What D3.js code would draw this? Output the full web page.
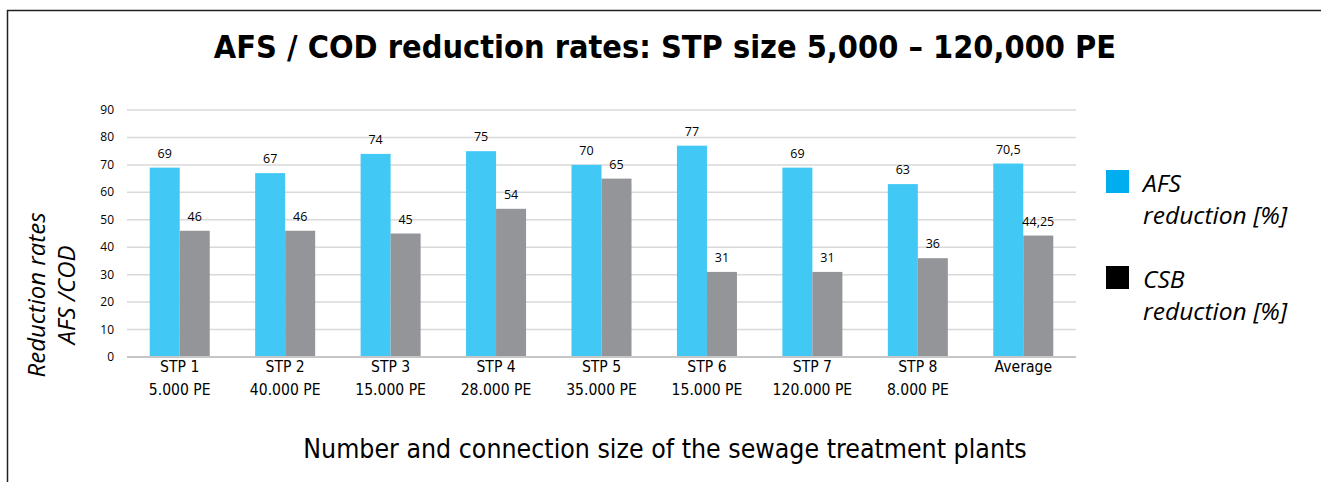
<!DOCTYPE html>
<html>
<head>
  <meta charset="utf-8">
  <title>AFS / COD reduction rates</title>
  <style>
    html, body {
      margin: 0;
      padding: 0;
      background: #fff;
    }
    svg {
      display: block;
    }
    .grid line {
      stroke: #d9d9d9;
      stroke-width: 1.5;
    }
    .ytick {
      font-family: "Open Sans", sans-serif;
      font-size: 12px;
      fill: #000;
    }
    .vlabel {
      font-family: "Open Sans", sans-serif;
      font-size: 12.5px;
      fill: #000;
    }
    .cat {
      font-family: "DejaVu Sans", sans-serif;
      font-size: 14px;
      fill: #000;
    }
  </style>
</head>
<body>
  <svg id="chart" width="1321" height="482"></svg>

  <script src="https://d3js.org/d3.v7.min.js"></script>
  <script>
    const categories = ["STP 1", "STP 2", "STP 3", "STP 4", "STP 5", "STP 6", "STP 7", "STP 8", "Average"];
    const sizes = ["5.000 PE", "40.000 PE", "15.000 PE", "28.000 PE", "35.000 PE", "15.000 PE", "120.000 PE", "8.000 PE", ""];
    const afsValues = [69, 67, 74, 75, 70, 77, 69, 63, 70.5];
    const csbValues = [46, 46, 45, 54, 65, 31, 31, 36, 44.25];
    const yTicks = [0, 10, 20, 30, 40, 50, 60, 70, 80, 90];
    const seriesNames = ["AFS reduction [%]", "CSB reduction [%]"];

    const svg = d3.select("#chart");

    // outer frame, only top and left edges are in view
    svg.append("path")
      .attr("d", "M7.5,482 L7.5,10.5 L1321,10.5")
      .attr("fill", "none")
      .attr("stroke", "#222")
      .attr("stroke-width", 1.5);

    // text in the original is a bit taller than wide, so stretch it a little
    function stretched(sel, x, y, kx, ky) {
      return sel.append("text").attr("transform", `translate(${x},${y}) scale(${kx},${ky})`);
    }

    stretched(svg, 665, 58, 1, 1.12)
      .attr("text-anchor", "middle")
      .style("font-family", "DejaVu Sans, sans-serif")
      .style("font-weight", "bold")
      .style("font-size", "29px")
      .text("AFS / COD reduction rates: STP size 5,000 \u2013 120,000 PE");

    const x0 = d3.scaleBand().domain(categories).range([127, 1076]).padding(0);
    const x1 = d3.scaleBand().domain(["afs", "csb"]).range([0, x0.bandwidth()]).paddingInner(0).paddingOuter(0.757);
    const y = d3.scaleLinear().domain([0, 90]).range([357, 110]);

    // gridlines
    svg.append("g").attr("class", "grid")
      .selectAll("line")
      .data(yTicks.filter(d => d > 0))
      .join("line")
      .attr("x1", 127).attr("x2", 1076)
      .attr("y1", d => y(d)).attr("y2", d => y(d));

    svg.append("g")
      .selectAll("text")
      .data(yTicks)
      .join("text")
      .attr("class", "ytick")
      .attr("x", 114)
      .attr("y", d => y(d) + 4)
      .attr("text-anchor", "end")
      .text(d => d);

    const rows = categories.map((c, i) => ({ cat: c, afs: afsValues[i], csb: csbValues[i] }));
    const colors = { afs: "#42c8f4", csb: "#939598" };
    const fmt = v => String(v).replace(".", ",");

    const groups = svg.append("g")
      .selectAll("g")
      .data(rows)
      .join("g")
      .attr("transform", d => `translate(${x0(d.cat)},0)`);

    groups.selectAll("rect")
      .data(d => ["afs", "csb"].map(k => ({ key: k, value: d[k] })))
      .join("rect")
      .attr("x", d => x1(d.key))
      .attr("width", x1.bandwidth())
      .attr("y", d => y(d.value))
      .attr("height", d => y(0) - y(d.value))
      .attr("fill", d => colors[d.key]);

    groups.selectAll("text.vlabel")
      .data(d => ["afs", "csb"].map(k => ({ key: k, value: d[k] })))
      .join("text")
      .attr("class", "vlabel")
      .attr("x", d => x1(d.key) + x1.bandwidth() / 2)
      .attr("y", d => y(d.value) - 10)
      .attr("text-anchor", "middle")
      .text(d => fmt(d.value));

    // baseline
    svg.append("line")
      .attr("x1", 127).attr("x2", 1076)
      .attr("y1", y(0)).attr("y2", y(0))
      .attr("stroke", "#c6c6c6")
      .attr("stroke-width", 2);

    categories.forEach((c, i) => {
      const cx = x0(c) + x0.bandwidth() / 2;
      stretched(svg, cx, 372, 1, 1.08).attr("class", "cat").attr("text-anchor", "middle").text(c);
      stretched(svg, cx, 395, 1, 1.08).attr("class", "cat").attr("text-anchor", "middle").text(sizes[i]);
    });

    stretched(svg, 665, 458, 1, 1.08)
      .attr("text-anchor", "middle")
      .style("font-family", "DejaVu Sans, sans-serif")
      .style("font-size", "23.8px")
      .text("Number and connection size of the sewage treatment plants");

    const yTitle = svg.append("text")
      .attr("transform", "translate(0,295) rotate(-90)")
      .attr("text-anchor", "middle")
      .style("font-family", "Open Sans, sans-serif")
      .style("font-style", "italic")
      .style("font-size", "24px");
    yTitle.append("tspan").attr("x", 0).attr("y", 45).text("Reduction rates");
    yTitle.append("tspan").attr("x", 0).attr("y", 75).text("AFS /COD");

    // legend
    const legendColors = ["#00aeef", "#000000"];
    const legend = svg.append("g")
      .selectAll("g")
      .data(seriesNames)
      .join("g")
      .attr("transform", (d, i) => `translate(1106,${170 + i * 96})`);
    legend.append("rect")
      .attr("width", 23).attr("height", 23)
      .attr("fill", (d, i) => legendColors[i]);
    legend.each(function (d) {
      const g = d3.select(this);
      const words = d.split(" ");
      stretched(g, 37, 22, 1.07, 1)
        .style("font-family", "Open Sans, sans-serif")
        .style("font-style", "italic")
        .style("font-size", "23px")
        .text(words[0]);
      stretched(g, 37, 54, 1.07, 1)
        .style("font-family", "Open Sans, sans-serif")
        .style("font-style", "italic")
        .style("font-size", "23px")
        .text(words.slice(1).join(" "));
    });
  </script>
</body>
</html>
